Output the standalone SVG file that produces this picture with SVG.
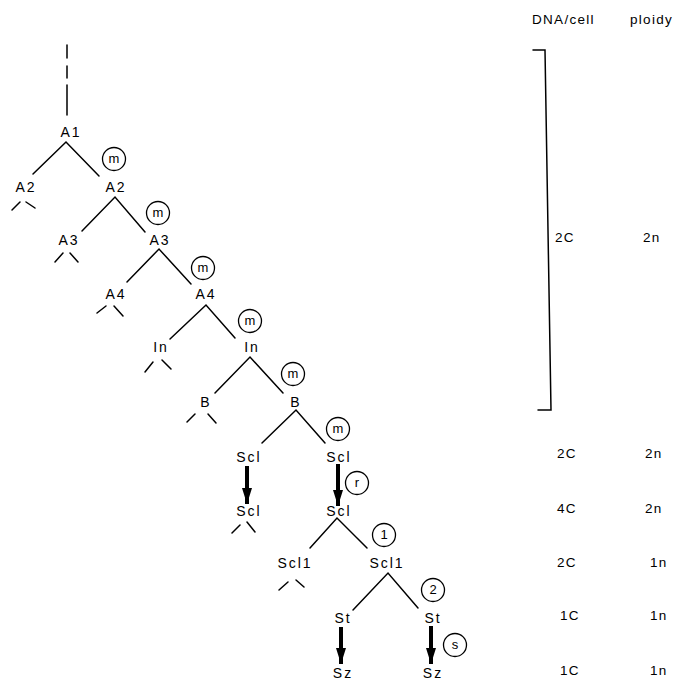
<svg xmlns="http://www.w3.org/2000/svg" width="685" height="681" viewBox="0 0 685 681">
<defs>
<style>
.t{font-family:"Liberation Sans",Arial,sans-serif;font-size:14px;letter-spacing:2px;fill:#000;text-anchor:middle}
.h{font-family:"Liberation Sans",Arial,sans-serif;font-size:13.5px;letter-spacing:1.3px;fill:#000}
.c{font-family:"Liberation Sans",Arial,sans-serif;font-size:13px;fill:#000;text-anchor:middle}
.ln{stroke:#000;stroke-width:1.5;fill:none;stroke-linecap:round}
.ring{stroke:#000;stroke-width:1.3;fill:#fff}
.ar{stroke:#000;stroke-width:4;fill:none}
</style>
<marker id="ah" viewBox="0 0 16 10" refX="16" refY="5" markerWidth="4" markerHeight="2.6" orient="auto" markerUnits="strokeWidth">
<path d="M0 0 L16 5 L0 10 Z" fill="#000"/>
</marker>
</defs>
<rect width="685" height="681" fill="#fff"/>

<g id="connectors">
<path class="ln" d="M67 45 V58 M67 66 V78 M67 85 V115"/>
<path class="ln" d="M33 174 L66 142 L99 176"/>
<path class="ln" d="M82 231 L115 197 L145 232"/>
<path class="ln" d="M127 282 L159 249 L191 284"/>
<path class="ln" d="M170 339 L206 305 L235 338"/>
<path class="ln" d="M215 393 L250 357 L283 393"/>
<path class="ln" d="M262 443 L296 410 L325 443"/>
<path class="ln" d="M310 548 L337 518 L367 548"/>
<path class="ln" d="M353 610 L388 573 L418 608"/>
<path class="ln" d="M12 210 L20 202 M26 202 L35 208"/>
<path class="ln" d="M55 262 L63 253 M70 253 L78 262"/>
<path class="ln" d="M97 313 L106 306 M114 306 L123 316"/>
<path class="ln" d="M145 372 L153 362 M162 360 L171 369"/>
<path class="ln" d="M187 422 L195 414 M208 414 L216 423"/>
<path class="ln" d="M232 533 L240 525 M247 522 L255 532"/>
<path class="ln" d="M279 590 L288 582 M296 580 L304 587"/>
<line class="ar" x1="247" y1="466" x2="247" y2="504" marker-end="url(#ah)"/>
<line class="ar" x1="338" y1="464" x2="338" y2="506" marker-end="url(#ah)"/>
<line class="ar" x1="341" y1="627" x2="341" y2="664" marker-end="url(#ah)"/>
<line class="ar" x1="431" y1="626" x2="431" y2="664" marker-end="url(#ah)"/>
</g>

<g id="A1"><text class="t" x="71" y="137">A1</text></g>
<g id="A2L"><text class="t" x="26" y="192">A2</text></g>
<g id="A2R"><text class="t" x="116" y="192">A2</text></g>
<g id="A3L"><text class="t" x="69" y="245">A3</text></g>
<g id="A3R"><text class="t" x="160" y="245">A3</text></g>
<g id="A4L"><text class="t" x="116" y="299">A4</text></g>
<g id="A4R"><text class="t" x="206" y="299">A4</text></g>
<g id="InL"><text class="t" x="161" y="352">In</text></g>
<g id="InR"><text class="t" x="252" y="352">In</text></g>
<g id="BL"><text class="t" x="206" y="407">B</text></g>
<g id="BR"><text class="t" x="296" y="407">B</text></g>
<g id="Scl1L"><text class="t" x="249" y="462">Scl</text></g>
<g id="Scl1R"><text class="t" x="339" y="462">Scl</text></g>
<g id="Scl2L"><text class="t" x="249" y="516">Scl</text></g>
<g id="Scl2R"><text class="t" x="339" y="516">Scl</text></g>
<g id="ScIIL"><text class="t" x="295" y="568">Scl1</text></g>
<g id="ScIIR"><text class="t" x="387" y="568">Scl1</text></g>
<g id="StL"><text class="t" x="343" y="623">St</text></g>
<g id="StR"><text class="t" x="433" y="623">St</text></g>
<g id="SzL"><text class="t" x="343" y="678">Sz</text></g>
<g id="SzR"><text class="t" x="433" y="678">Sz</text></g>

<g id="m1"><circle class="ring" cx="114" cy="159" r="11.5"/><text class="c" x="114" y="163">m</text></g>
<g id="m2"><circle class="ring" cx="158" cy="213" r="11.5"/><text class="c" x="158" y="217">m</text></g>
<g id="m3"><circle class="ring" cx="203" cy="268" r="11.5"/><text class="c" x="203" y="272">m</text></g>
<g id="m4"><circle class="ring" cx="250" cy="321" r="11.5"/><text class="c" x="250" y="325">m</text></g>
<g id="m5"><circle class="ring" cx="293" cy="374" r="11.5"/><text class="c" x="293" y="378">m</text></g>
<g id="m6"><circle class="ring" cx="338" cy="429" r="11.5"/><text class="c" x="338" y="433">m</text></g>
<g id="r"><circle class="ring" cx="357" cy="483" r="11.5"/><text class="c" x="357" y="487">r</text></g>
<g id="one"><circle class="ring" cx="384" cy="535" r="11.5"/><text class="c" x="384" y="539">1</text></g>
<g id="two"><circle class="ring" cx="433" cy="590" r="11.5"/><text class="c" x="433" y="594">2</text></g>
<g id="s"><circle class="ring" cx="455" cy="645" r="11.5"/><text class="c" x="455" y="649">s</text></g>

<g id="table">
<text class="h" x="532" y="24">DNA/cell</text>
<text class="h" x="630" y="24">ploidy</text>
<path class="ln" d="M533 50 H545 L551 410 H538"/>
<text class="h" x="555" y="242">2C</text><text class="h" x="643" y="242">2n</text>
<text class="h" x="557" y="458">2C</text><text class="h" x="645" y="458">2n</text>
<text class="h" x="557" y="513">4C</text><text class="h" x="645" y="513">2n</text>
<text class="h" x="557" y="567">2C</text><text class="h" x="650" y="567">1n</text>
<text class="h" x="560" y="620">1C</text><text class="h" x="650" y="620">1n</text>
<text class="h" x="560" y="675">1C</text><text class="h" x="650" y="675">1n</text>
</g>
</svg>
